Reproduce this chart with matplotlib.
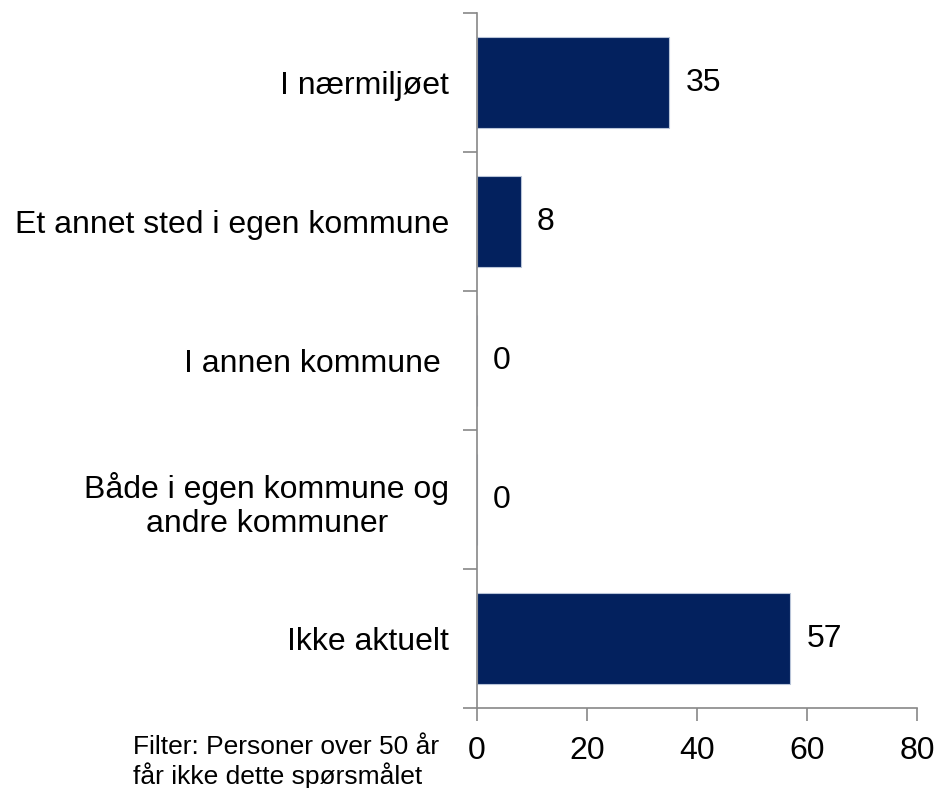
import matplotlib.pyplot as plt
import numpy as np

plt.rcParams['font.family'] = ['Liberation Sans', 'DejaVu Sans']

# Dados
kategorier = ["I nærmiljøet", "Et annet sted i egen kommune", "I annen kommune ",
              "Både i egen kommune og\nandre kommuner", "Ikke aktuelt"]
verdier = [35, 8, 0, 0, 57]
xticks = [0, 20, 40, 60, 80]

farge = '#03215E'
aksefarge = '#888888'

fig = plt.figure(figsize=(9.4, 7.88), dpi=100)
ax = fig.add_axes([0.5074, 0.1015, 0.4681, 0.882])

y = np.arange(len(kategorier))
ax.barh(y, verdier, height=0.66, color=farge, edgecolor='#B8C4D8', linewidth=0.8)

for yi, v in zip(y, verdier):
    ax.text(v + 2.9, yi, str(v), va='center', ha='left', fontsize=23)

ax.set_xlim(0, 80)
ax.set_ylim(len(kategorier) - 0.5, -0.5)
ax.set_xticks(xticks)
ax.set_xticklabels([str(t) for t in xticks], fontsize=23)
ax.set_yticks(y)
ax.set_yticklabels(kategorier, fontsize=23, multialignment='center', linespacing=1.2)
ax.set_yticks(np.arange(-0.5, len(kategorier)), minor=True)

ax.tick_params(axis='y', which='major', length=0, pad=20)
ax.tick_params(axis='y', which='minor', length=10, width=1.2, color=aksefarge, direction='out')
ax.tick_params(axis='x', length=9, width=1.2, color=aksefarge, pad=11)

for s in ['top', 'right']:
    ax.spines[s].set_visible(False)
for s in ['left', 'bottom']:
    ax.spines[s].set_color(aksefarge)
    ax.spines[s].set_linewidth(1.2)

fig.text(0.1415, 0.033, "Filter: Personer over 50 år\nfår ikke dette spørsmålet",
         fontsize=19, ha='left', va='center', linespacing=1.15)

plt.savefig("out.png", dpi=100)
